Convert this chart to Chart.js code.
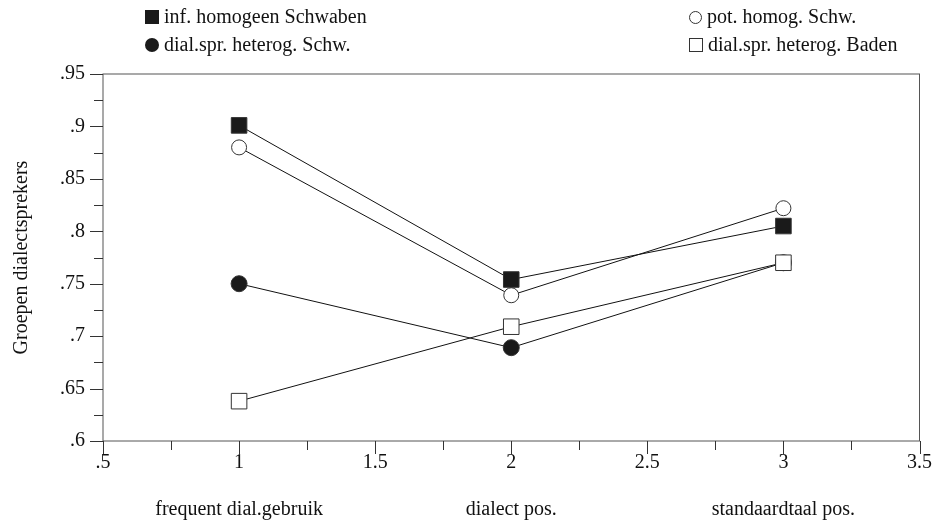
<!DOCTYPE html>
<html>
<head>
<meta charset="utf-8">
<script src="https://cdn.jsdelivr.net/npm/chart.js@4"></script>
<style>
  body { margin: 0; background: #fff; }
  #wrap { position: relative; width: 934px; height: 531px; font-family: "Liberation Serif", serif; }
  .leg { position: absolute; font-size: 20px; color: #111; white-space: nowrap; line-height: 24px; }
  .sym { display: inline-block; vertical-align: -1px; margin-right: 5px; box-sizing: border-box; }
</style>
</head>
<body>
<div id="wrap">
  <canvas id="c" width="934" height="531"></canvas>
  <div class="leg" style="left:145px; top:4px;"><span class="sym" style="width:14px;height:14px;background:#1a1a1a;"></span>inf. homogeen Schwaben</div>
  <div class="leg" style="left:689px; top:4px;"><span class="sym" style="width:13px;height:13px;border:1px solid #333;border-radius:50%;"></span>pot. homog. Schw.</div>
  <div class="leg" style="left:145px; top:32px;"><span class="sym" style="width:14px;height:14px;background:#1a1a1a;border-radius:50%;"></span>dial.spr. heterog. Schw.</div>
  <div class="leg" style="left:689px; top:32px;"><span class="sym" style="width:14px;height:14px;border:1px solid #333;"></span>dial.spr. heterog. Baden</div>
</div>
<script>
// data
const xPos = [1, 2, 3];
const categories = ['frequent dial.gebruik', 'dialect pos.', 'standaardtaal pos.'];
const infHomSchw = [0.901, 0.754, 0.805];
const potHomSchw = [0.880, 0.739, 0.822];
const dialHetSchw = [0.750, 0.689, 0.770];
const dialHetBaden = [0.638, 0.709, 0.770];

const toPts = arr => arr.map((v, i) => ({ x: xPos[i], y: v }));
const fmt = v => {
  let s = (Math.round(v * 1000) / 1000).toString();
  return s.replace(/^0\./, '.');
};

const FONT = '"Liberation Serif", serif';

// frame, tick marks (major + minor) and category labels
const framePlugin = {
  id: 'frame',
  afterDraw(chart) {
    const { ctx, chartArea: a, scales } = chart;
    ctx.save();
    ctx.strokeStyle = '#555';
    ctx.lineWidth = 1;
    ctx.strokeRect(a.left, a.top, a.right - a.left, a.bottom - a.top);
    ctx.strokeStyle = '#333';
    ctx.beginPath();
    scales.x.ticks.forEach(t => {
      const px = Math.round(scales.x.getPixelForValue(t.value)) + 0.5;
      const major = Math.abs(t.value * 2 - Math.round(t.value * 2)) < 1e-6;
      ctx.moveTo(px, a.bottom);
      ctx.lineTo(px, a.bottom + (major ? 13 : 9));
    });
    scales.y.ticks.forEach(t => {
      const py = Math.round(scales.y.getPixelForValue(t.value)) + 0.5;
      const major = Math.abs(t.value * 20 - Math.round(t.value * 20)) < 1e-6;
      ctx.moveTo(a.left, py);
      ctx.lineTo(a.left - (major ? 13 : 9), py);
    });
    ctx.stroke();
    ctx.fillStyle = '#111';
    ctx.font = '20px ' + FONT;
    ctx.textAlign = 'center';
    ctx.textBaseline = 'middle';
    categories.forEach((c, i) => {
      ctx.fillText(c, scales.x.getPixelForValue(xPos[i]), 510);
    });
    ctx.restore();
  }
};

const lineDs = (label, data, style, fill, r, order) => ({
  label, data: toPts(data), order,
  borderColor: '#111', borderWidth: 1,
  pointStyle: style, pointRadius: r, pointHoverRadius: r,
  pointBackgroundColor: fill, pointBorderColor: '#333', pointBorderWidth: 1
});

new Chart(document.getElementById('c'), {
  type: 'line',
  data: {
    datasets: [
      lineDs('inf. homogeen Schwaben', infHomSchw, 'rect', '#1a1a1a', 11, 0),
      lineDs('pot. homog. Schw.', potHomSchw, 'circle', '#fff', 7.5, 1),
      lineDs('dial.spr. heterog. Baden', dialHetBaden, 'rect', '#fff', 11, 0),
      lineDs('dial.spr. heterog. Schw.', dialHetSchw, 'circle', '#1a1a1a', 8, 2)
    ]
  },
  options: {
    responsive: false,
    animation: false,
    layout: { padding: { top: 74, right: 13, left: 10, bottom: 0 } },
    plugins: { legend: { display: false }, tooltip: { enabled: false } },
    scales: {
      x: {
        type: 'linear', min: 0.5, max: 3.5,
        afterBuildTicks(s) {
          const t = [];
          for (let v = 0.5; v <= 3.5001; v += 0.25) t.push({ value: Math.round(v * 100) / 100 });
          s.ticks = t;
        },
        afterFit(s) { s.height = 90; },
        grid: { display: false },
        border: { display: false },
        ticks: {
          autoSkip: false, maxRotation: 0, padding: 2,
          color: '#111', font: { family: FONT, size: 20 },
          callback: v => (Math.abs(v * 2 - Math.round(v * 2)) < 1e-6 ? fmt(v) : '')
        }
      },
      y: {
        min: 0.6, max: 0.95,
        afterBuildTicks(s) {
          const t = [];
          for (let v = 0.6; v <= 0.9501; v += 0.025) t.push({ value: Math.round(v * 1000) / 1000 });
          s.ticks = t;
        },
        afterFit(s) { s.width = 93; },
        grid: { display: false },
        border: { display: false },
        title: {
          display: true, text: 'Groepen dialectsprekers',
          color: '#111', font: { family: FONT, size: 20 }, padding: { top: 0, bottom: 8 }
        },
        ticks: {
          autoSkip: false, padding: 10,
          color: '#111', font: { family: FONT, size: 20 },
          callback: v => (Math.abs(v * 20 - Math.round(v * 20)) < 1e-6 ? fmt(v) : '')
        }
      }
    }
  },
  plugins: [framePlugin]
});
</script>
</body>
</html>
